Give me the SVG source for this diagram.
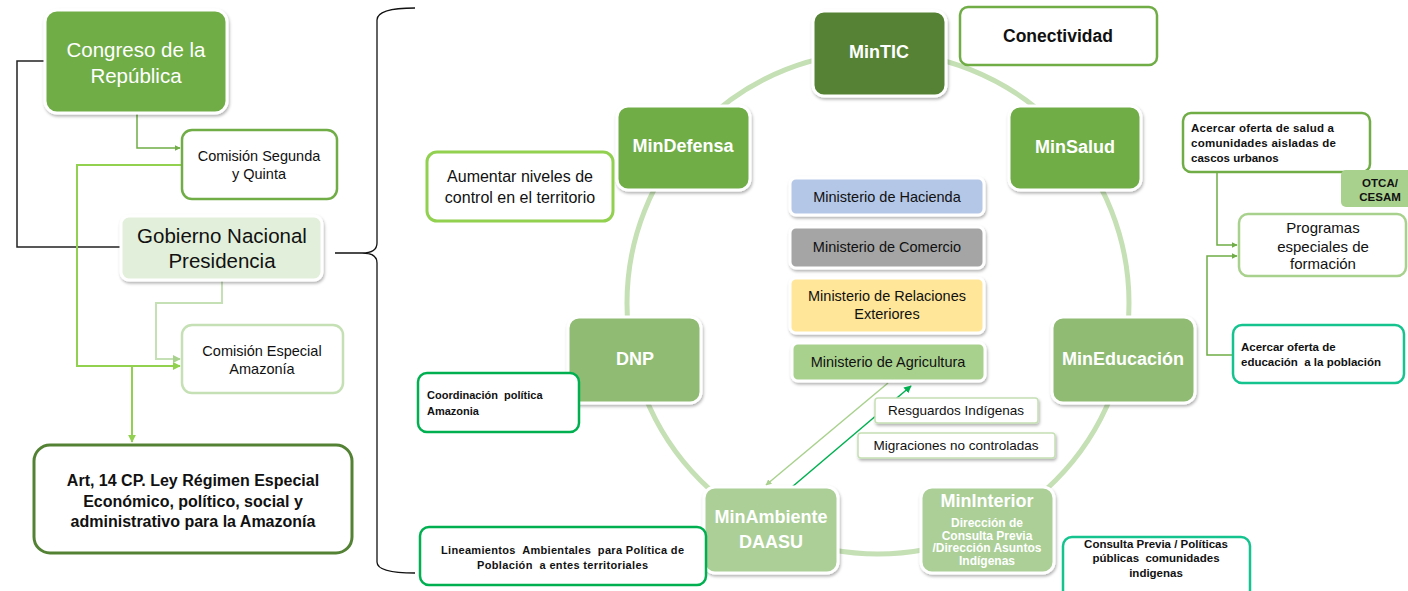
<svg xmlns="http://www.w3.org/2000/svg" width="1408" height="591" viewBox="0 0 1408 591">
<defs>
<filter id="sh" x="-10%" y="-10%" width="125%" height="135%"><feDropShadow dx="1" dy="2" stdDeviation="1.6" flood-color="#000" flood-opacity="0.3"/></filter>
<marker id="aG" viewBox="0 0 10 10" refX="9" refY="5" markerWidth="4" markerHeight="4" orient="auto"><path d="M0,0 L10,5 L0,10 z" fill="#70ad47"/></marker>
<marker id="aB" viewBox="0 0 10 10" refX="9" refY="5" markerWidth="4" markerHeight="4" orient="auto"><path d="M0,0 L10,5 L0,10 z" fill="#92d050"/></marker>
<marker id="aL" viewBox="0 0 10 10" refX="9" refY="5" markerWidth="4" markerHeight="4" orient="auto"><path d="M0,0 L10,5 L0,10 z" fill="#a9d18e"/></marker>
<marker id="aD" viewBox="0 0 10 10" refX="9" refY="5" markerWidth="5" markerHeight="5" orient="auto"><path d="M0,0 L10,5 L0,10 z" fill="#00b050"/></marker>
</defs>
<style>
text{font-family:"Liberation Sans",Arial,sans-serif;}
.node{stroke:#fff;stroke-width:3;filter:url(#sh);}
.nt{fill:#fff;font-weight:bold;font-size:18px;text-anchor:middle;}
.box{fill:#fff;}
.c{text-anchor:middle;}
.sb{font-weight:bold;font-size:11.5px;fill:#111;white-space:pre;}
.ln{fill:none;}
</style>
<rect width="1408" height="591" fill="#fff"/>

<g id="connectors">
<circle cx="878" cy="303" r="251" fill="none" stroke="#c5e0b4" stroke-width="5"/>
<path class="ln" d="M45,61 H17 V247 H121" stroke="#222" stroke-width="1.5"/>
<path class="ln" d="M137,113 V148 H180" stroke="#70ad47" stroke-width="1.5" marker-end="url(#aG)"/>
<path class="ln" d="M182,165 H77 V366 H180" stroke="#92d050" stroke-width="2" marker-end="url(#aB)"/>
<path class="ln" d="M132,366 V442" stroke="#92d050" stroke-width="2" marker-end="url(#aB)"/>
<path class="ln" d="M222,281 V303 H156 V359 H180" stroke="#c5e0b4" stroke-width="2" marker-end="url(#aL)"/>
<path class="ln" d="M335,253 H362 M415,8 Q377,8 377,20 V243 Q377,253 362,253 Q377,253 377,263 V562 Q377,573 415,573" stroke="#111" stroke-width="1.3"/>
<path class="ln" d="M888,383 L766,485" stroke="#a9d18e" stroke-width="1.5" marker-end="url(#aL)"/>
<path class="ln" d="M792,487 L911,386" stroke="#00b050" stroke-width="1.5" marker-end="url(#aD)"/>
<path class="ln" d="M1217,172 V245 H1237" stroke="#70ad47" stroke-width="1.5" marker-end="url(#aG)"/>
<path class="ln" d="M1233,355 H1207 V256 H1237" stroke="#70ad47" stroke-width="1.5" marker-end="url(#aG)"/>
</g>

<g id="congreso">
<rect class="node" x="45" y="10" width="182" height="103" rx="12" fill="#70ad47"/>
<text class="c" x="136" y="57" font-size="20.5" fill="#fff">Congreso de la</text>
<text class="c" x="136" y="83" font-size="20.5" fill="#fff">República</text>
</g>
<g id="comision-segunda">
<rect class="box" x="182" y="130" width="155" height="69" rx="10" stroke="#70ad47" stroke-width="2.5"/>
<text class="c" x="259" y="161" font-size="14.5" fill="#111">Comisión Segunda</text>
<text class="c" x="259" y="179" font-size="14.5" fill="#111">y Quinta</text>
</g>
<g id="gobierno">
<rect class="node" x="121" y="216" width="201" height="64" rx="8" fill="#e2efda"/>
<text class="c" x="222" y="243" font-size="20.5" fill="#111">Gobierno Nacional</text>
<text class="c" x="222" y="268" font-size="20.5" fill="#111">Presidencia</text>
</g>
<g id="comision-especial">
<rect class="box" x="182" y="325" width="161" height="68" rx="10" stroke="#c5e0b4" stroke-width="2.5"/>
<text class="c" x="262" y="356" font-size="14.5" fill="#111">Comisión Especial</text>
<text class="c" x="262" y="374" font-size="14.5" fill="#111">Amazonía</text>
</g>
<g id="art14">
<rect class="box" x="34" y="445" width="318" height="108" rx="16" stroke="#548235" stroke-width="3"/>
<text class="c" x="193" y="486" font-size="16" font-weight="bold" fill="#111">Art, 14 CP. Ley Régimen Especial</text>
<text class="c" x="193" y="507" font-size="16" font-weight="bold" fill="#111">Económico, político, social y</text>
<text class="c" x="193" y="527" font-size="16" font-weight="bold" fill="#111">administrativo para la Amazonía</text>
</g>

<g id="mintic">
<rect class="node" x="813" y="11" width="133" height="85" rx="11" fill="#548235"/>
<text class="nt" x="879" y="58">MinTIC</text>
</g>
<g id="conectividad">
<rect class="box" x="960" y="7" width="197" height="58" rx="8" stroke="#70ad47" stroke-width="2.5"/>
<text class="c" x="1058" y="42" font-size="17.5" font-weight="bold" fill="#111">Conectividad</text>
</g>
<g id="mindefensa">
<rect class="node" x="617" y="106" width="133" height="84" rx="11" fill="#70ad47"/>
<text class="nt" x="683" y="152">MinDefensa</text>
</g>
<g id="aumentar">
<rect class="box" x="427" y="152" width="186" height="69" rx="10" stroke="#92d050" stroke-width="3"/>
<text class="c" x="520" y="182" font-size="16" fill="#111">Aumentar niveles de</text>
<text class="c" x="520" y="203" font-size="16" fill="#111">control en el territorio</text>
</g>
<g id="minsalud">
<rect class="node" x="1009" y="106" width="132" height="84" rx="11" fill="#70ad47"/>
<text class="nt" x="1075" y="153">MinSalud</text>
</g>
<g id="dnp">
<rect class="node" x="568" y="317" width="133" height="86" rx="11" fill="#8fbb73"/>
<text class="nt" x="635" y="365">DNP</text>
</g>
<g id="mineducacion">
<rect class="node" x="1052" y="317" width="143" height="86" rx="11" fill="#8fbb73"/>
<text class="nt" x="1123" y="365">MinEducación</text>
</g>
<g id="minambiente">
<rect class="node" x="704" y="487" width="134" height="86" rx="11" fill="#abcf97"/>
<text class="nt" x="771" y="523" font-size="17.5">MinAmbiente</text>
<text class="nt" x="771" y="548" font-size="17.5">DAASU</text>
</g>
<g id="mininterior">
<rect class="node" x="921" y="487" width="133" height="86" rx="11" fill="#abcf97"/>
<text class="nt" x="987" y="507">MinInterior</text>
<text class="c" x="987" y="527" font-size="12" font-weight="bold" fill="#fff">Dirección de</text>
<text class="c" x="987" y="539.5" font-size="12" font-weight="bold" fill="#fff">Consulta Previa</text>
<text class="c" x="987" y="552" font-size="12" font-weight="bold" fill="#fff">/Dirección Asuntos</text>
<text class="c" x="987" y="564.5" font-size="12" font-weight="bold" fill="#fff">Indígenas</text>
</g>

<g id="hacienda">
<rect class="node" x="790" y="178" width="194" height="37" rx="6" fill="#b4c7e7"/>
<text class="c" x="887" y="202" font-size="14.5" fill="#111">Ministerio de Hacienda</text>
</g>
<g id="comercio">
<rect class="node" x="790" y="227" width="194" height="41" rx="6" fill="#a5a5a5"/>
<text class="c" x="887" y="252" font-size="14.5" fill="#111">Ministerio de Comercio</text>
</g>
<g id="relaciones">
<rect class="node" x="790" y="278" width="194" height="55" rx="6" fill="#ffe699"/>
<text class="c" x="887" y="301" font-size="14.5" fill="#111">Ministerio de Relaciones</text>
<text class="c" x="887" y="319" font-size="14.5" fill="#111">Exteriores</text>
</g>
<g id="agricultura">
<rect class="node" x="792" y="343" width="193" height="38" rx="6" fill="#a9d18e"/>
<text class="c" x="888" y="367" font-size="14.5" fill="#111">Ministerio de Agricultura</text>
</g>
<g id="resguardos">
<rect class="box" x="875" y="398" width="163" height="25" rx="3" stroke="#c5e0b4" stroke-width="1.5" filter="url(#sh)"/>
<text class="c" x="956" y="415" font-size="13.5" fill="#111">Resguardos Indígenas</text>
</g>
<g id="migraciones">
<rect class="box" x="858" y="433" width="197" height="25" rx="3" stroke="#c5e0b4" stroke-width="1.5" filter="url(#sh)"/>
<text class="c" x="956" y="450" font-size="13.5" fill="#111">Migraciones no controladas</text>
</g>

<g id="coordinacion">
<rect class="box" x="418" y="373" width="161" height="59" rx="9" stroke="#00b050" stroke-width="2.5"/>
<text class="sb" x="427" y="399" style="font-size:11px">Coordinación  política</text>
<text class="sb" x="427" y="415" style="font-size:11px">Amazonia</text>
</g>
<g id="lineamientos">
<rect class="box" x="420" y="527" width="286" height="58" rx="9" stroke="#00b050" stroke-width="2.5"/>
<text class="sb" x="441" y="554" style="font-size:11px" textLength="243" lengthAdjust="spacing">Lineamientos  Ambientales  para Política de</text>
<text class="sb" x="477" y="569" style="font-size:11px" textLength="171" lengthAdjust="spacing">Población  a entes territoriales</text>
</g>
<g id="acercar-salud">
<rect class="box" x="1183" y="113" width="187" height="59" rx="8" stroke="#70ad47" stroke-width="2.5"/>
<text class="sb" x="1191" y="132" textLength="143" lengthAdjust="spacing">Acercar oferta de salud a</text>
<text class="sb" x="1191" y="147" textLength="145" lengthAdjust="spacing">comunidades aisladas de</text>
<text class="sb" x="1191" y="162">cascos urbanos</text>
</g>
<g id="otca">
<rect x="1341" y="170" width="72" height="37" rx="5" fill="#a9d18e"/>
<text class="sb c" x="1380" y="187">OTCA/</text>
<text class="sb c" x="1380" y="201">CESAM</text>
</g>
<g id="programas">
<rect class="box" x="1239" y="214" width="167" height="62" rx="9" stroke="#a9d18e" stroke-width="2.5"/>
<text class="c" x="1323" y="233" font-size="15" fill="#111">Programas</text>
<text class="c" x="1323" y="252" font-size="15" fill="#111">especiales de</text>
<text class="c" x="1323" y="269" font-size="15" fill="#111">formación</text>
</g>
<g id="acercar-educacion">
<rect class="box" x="1233" y="325" width="171" height="58" rx="9" stroke="#14c38e" stroke-width="2.5"/>
<text class="sb" x="1241" y="351">Acercar oferta de</text>
<text class="sb" x="1241" y="366">educación  a la población</text>
</g>
<g id="consulta">
<rect class="box" x="1063" y="537" width="187" height="62" rx="9" stroke="#14c38e" stroke-width="2.5"/>
<text class="sb c" x="1156" y="548">Consulta Previa / Políticas</text>
<text class="sb c" x="1156" y="562">públicas  comunidades</text>
<text class="sb c" x="1156" y="577">indigenas</text>
</g>
</svg>
